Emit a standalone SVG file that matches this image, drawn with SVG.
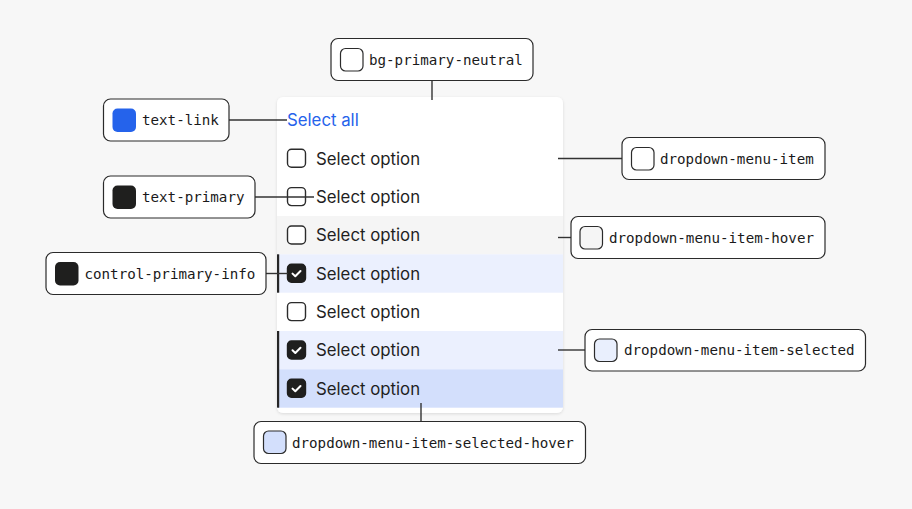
<svg xmlns="http://www.w3.org/2000/svg" width="912" height="509" viewBox="0 0 912 509">
<style>
.bg{fill:#f7f7f7}
.lbl rect.box{fill:#ffffff;stroke:#2b2b2b;stroke-width:1.2}
.lbl rect.sw{stroke:#2b2b2b;stroke-width:1.2}
.lbl text{font-family:"DejaVu Sans Mono","Liberation Mono",monospace;font-size:14.2px;fill:#1a1a1a}
.opt{font-family:Inter,"Noto Sans",sans-serif;font-size:16.8px;fill:#1f1f1f}
.link{font-family:Inter,"Noto Sans",sans-serif;font-size:16.8px;fill:#2563eb}
.cb{fill:#ffffff;stroke:#2b2b2b;stroke-width:1.4}
.cbon{fill:#1f1f1e;stroke:#1f1f1e;stroke-width:1.4}
.chk{fill:none;stroke:#ffffff;stroke-width:2;stroke-linecap:round;stroke-linejoin:round}
.conn line{stroke:#333333;stroke-width:1.4}
.bar{fill:#262626}
</style>
<defs>
<filter id="sh" x="-10%" y="-10%" width="120%" height="120%">
<feDropShadow dx="0" dy="1" stdDeviation="1.5" flood-color="#000" flood-opacity="0.12"/>
</filter>
<clipPath id="cardclip"><rect x="277" y="97" width="286" height="316" rx="6"/></clipPath>
</defs>
<rect class="bg" x="0" y="0" width="912" height="509"/>

<g id="dropdown">
<rect x="277" y="97" width="286" height="316" rx="6" fill="#ffffff" filter="url(#sh)"/>
<g clip-path="url(#cardclip)">
<rect x="277" y="216" width="286" height="38.3" fill="#f5f5f5"/>
<rect x="277" y="254.3" width="286" height="38.4" fill="#ebf0fe"/>
<rect x="277" y="331" width="286" height="38.3" fill="#ebf0fe"/>
<rect x="277" y="369.3" width="286" height="38.4" fill="#d3dffc"/>
<rect class="bar" x="277" y="254.3" width="2.2" height="38.4"/>
<rect class="bar" x="277" y="331" width="2.2" height="76.7"/>
</g>
<text class="link" x="287" y="126.3">Select all</text>
<g id="opt1"><rect class="cb" x="287.5" y="149.3" width="18" height="18" rx="4"/><text class="opt" x="316" y="164.6">Select option</text></g>
<g id="opt2"><rect class="cb" x="287.5" y="187.6" width="18" height="18" rx="4"/><text class="opt" x="316" y="202.9">Select option</text></g>
<g id="opt3"><rect class="cb" x="287.5" y="226" width="18" height="18" rx="4"/><text class="opt" x="316" y="241.3">Select option</text></g>
<g id="opt4"><rect class="cbon" x="287.5" y="264.3" width="18" height="18" rx="4"/><path class="chk" d="M292.5 273.6 L295.3 276.3 L300.5 271"/><text class="opt" x="316" y="279.6">Select option</text></g>
<g id="opt5"><rect class="cb" x="287.5" y="302.6" width="18" height="18" rx="4"/><text class="opt" x="316" y="317.9">Select option</text></g>
<g id="opt6"><rect class="cbon" x="287.5" y="341" width="18" height="18" rx="4"/><path class="chk" d="M292.5 350.3 L295.3 353 L300.5 347.7"/><text class="opt" x="316" y="356.3">Select option</text></g>
<g id="opt7"><rect class="cbon" x="287.5" y="379.3" width="18" height="18" rx="4"/><path class="chk" d="M292.5 388.6 L295.3 391.3 L300.5 386"/><text class="opt" x="316" y="394.6">Select option</text></g>
</g>

<g id="connectors" class="conn">
<line x1="432" y1="81" x2="432" y2="100"/>
<line x1="229" y1="120" x2="287" y2="120"/>
<line x1="255" y1="197" x2="314" y2="197"/>
<line x1="266" y1="273.5" x2="288" y2="273.5"/>
<line x1="558" y1="158.5" x2="622" y2="158.5"/>
<line x1="558" y1="237.5" x2="571" y2="237.5"/>
<line x1="558" y1="350" x2="585" y2="350"/>
<line x1="421" y1="403" x2="421" y2="421.5"/>
</g>

<g id="lbl-bg-primary-neutral" class="lbl">
<rect class="box" x="331" y="38.5" width="202" height="42" rx="7"/>
<rect class="sw" x="340.5" y="48.5" width="22.5" height="22.5" rx="5" fill="#ffffff"/>
<text x="369" y="64.5">bg-primary-neutral</text>
</g>
<g id="lbl-text-link" class="lbl">
<rect class="box" x="103.5" y="99" width="125.5" height="42" rx="7"/>
<rect x="112.5" y="108.5" width="23.5" height="23.5" rx="5" fill="#2563eb"/>
<text x="142" y="125">text-link</text>
</g>
<g id="lbl-text-primary" class="lbl">
<rect class="box" x="103.5" y="176" width="151.5" height="42" rx="7"/>
<rect x="112.5" y="185.5" width="23.5" height="23.5" rx="5" fill="#1f1f1e"/>
<text x="142" y="202">text-primary</text>
</g>
<g id="lbl-control-primary-info" class="lbl">
<rect class="box" x="46" y="252.5" width="220" height="42" rx="7"/>
<rect x="55" y="262" width="23.5" height="23.5" rx="5" fill="#1f1f1e"/>
<text x="84.5" y="278.5">control-primary-info</text>
</g>
<g id="lbl-dropdown-menu-item" class="lbl">
<rect class="box" x="622" y="137.5" width="203" height="42" rx="7"/>
<rect class="sw" x="631.5" y="147.5" width="22.5" height="22.5" rx="5" fill="#ffffff"/>
<text x="660" y="163.5">dropdown-menu-item</text>
</g>
<g id="lbl-dropdown-menu-item-hover" class="lbl">
<rect class="box" x="571" y="216.5" width="254" height="42" rx="7"/>
<rect class="sw" x="580" y="226.5" width="22.5" height="22.5" rx="5" fill="#f5f5f5"/>
<text x="609" y="242.5">dropdown-menu-item-hover</text>
</g>
<g id="lbl-dropdown-menu-item-selected" class="lbl">
<rect class="box" x="585" y="329.5" width="280.5" height="41.5" rx="7"/>
<rect class="sw" x="594.5" y="339" width="22.5" height="22.5" rx="5" fill="#e9effd"/>
<text x="624" y="355">dropdown-menu-item-selected</text>
</g>
<g id="lbl-dropdown-menu-item-selected-hover" class="lbl">
<rect class="box" x="254" y="421.5" width="331.5" height="42" rx="7"/>
<rect class="sw" x="263.5" y="431" width="22.5" height="22.5" rx="5" fill="#d3dffc"/>
<text x="292" y="447.5">dropdown-menu-item-selected-hover</text>
</g>
</svg>
